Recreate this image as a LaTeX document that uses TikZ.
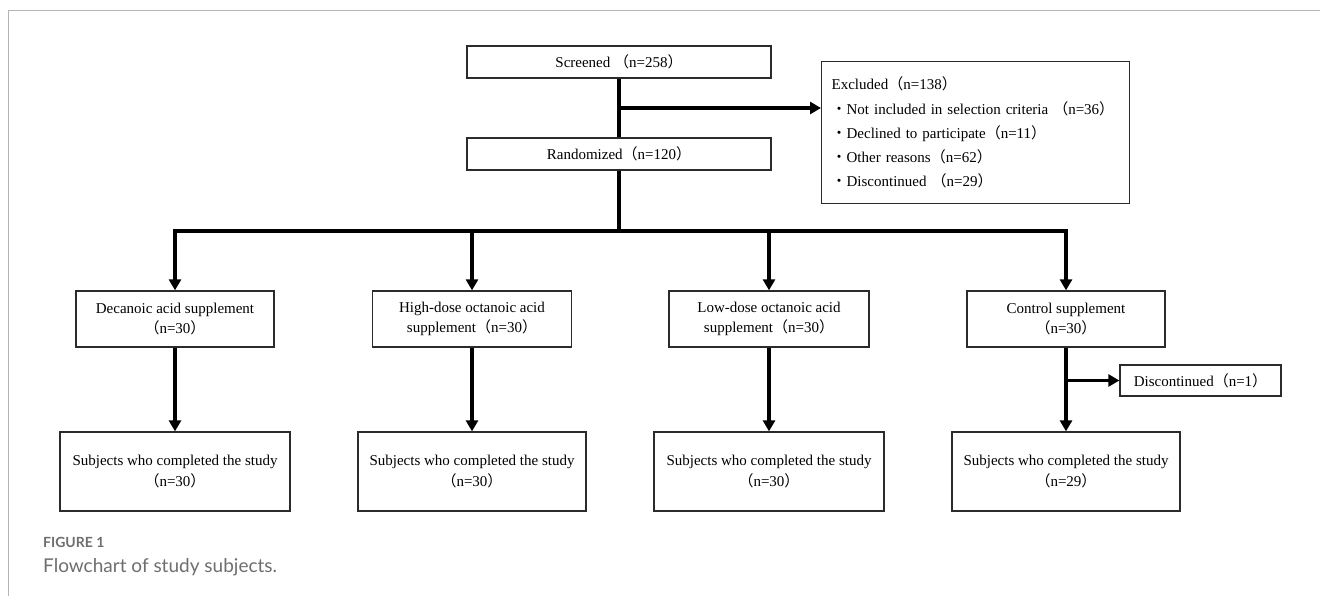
\documentclass[tikz,border=0pt]{standalone}
\usepackage{fontspec}
\setmainfont{Liberation Serif}
\newfontfamily\cjk{Noto Sans CJK SC}
\newfontfamily\capfont{Lato}
\usetikzlibrary{arrows.meta}
\newcommand{\lpar}{{\cjk （}}
\newcommand{\rpar}{{\cjk ）}}
\newcommand{\bul}{{\cjk ・}}
\definecolor{boxc}{HTML}{2B2B2B}
\definecolor{capgray}{HTML}{6E6E6E}
\definecolor{framec}{HTML}{B4B4B4}
\begin{document}
\begin{tikzpicture}[x=1pt,y=-1pt,
  box/.style={draw=boxc, line width=1.3pt, align=center, inner sep=0pt, font=\fontsize{15}{20.5}\selectfont},
  bigbox/.style={box, minimum width=304pt, minimum height=32pt},
  grpbox/.style={box, minimum height=56pt},
  endbox/.style={box, minimum height=79pt},
  conn/.style={line width=3.5pt},
  arr/.style={conn, -{Triangle[length=11pt,width=12pt]}},
  captxt/.style={anchor=base west, inner sep=0pt, text=capgray}
]
\useasboundingbox (0,0) rectangle (1320,596);
\draw[line width=1.5pt, framec] (8.5,596) -- (8.5,10.5) -- (1320,10.5);

% top boxes
\node[bigbox] (scr) at (619,62) {Screened \lpar n=258\rpar};
\node[bigbox] (ran) at (619,154) {Randomized\lpar n=120\rpar};
\node[box, anchor=north west, text width=288pt, align=left, inner xsep=10pt,
      minimum height=142pt, font=\fontsize{15}{24.3}\selectfont] (exc) at (821,61)
  {Excluded\lpar n=138\rpar\\
   \bul Not included in selection criteria \lpar n=36\rpar\\
   \bul Declined to participate\lpar n=11\rpar\\
   \bul Other reasons\lpar n=62\rpar\\
   \bul Discontinued \lpar n=29\rpar};

% group boxes
\node[grpbox, minimum width=198pt] (g1) at (175,319) {Decanoic acid supplement\\\lpar n=30\rpar};
\node[grpbox, minimum width=199pt] (g2) at (472,319) {High-dose octanoic acid\\supplement\lpar n=30\rpar};
\node[grpbox, minimum width=200pt] (g3) at (769,319) {Low-dose octanoic acid\\supplement\lpar n=30\rpar};
\node[grpbox, minimum width=198pt] (g4) at (1066,319) {Control supplement\\\lpar n=30\rpar};

% end boxes
\node[endbox, minimum width=230pt] (e1) at (175,471.5) {Subjects who completed the study\\\lpar n=30\rpar};
\node[endbox, minimum width=228pt] (e2) at (472,471.5) {Subjects who completed the study\\\lpar n=30\rpar};
\node[endbox, minimum width=230pt] (e3) at (769,471.5) {Subjects who completed the study\\\lpar n=30\rpar};
\node[endbox, minimum width=228pt] (e4) at (1066,471.5) {Subjects who completed the study\\\lpar n=29\rpar};

\node[box, minimum width=161pt, minimum height=31pt] (dis) at (1200.5,380.5) {Discontinued\lpar n=1\rpar};

% junctions
\coordinate (j1) at (619,108);
\coordinate (bar) at (619,231);
\coordinate (bl) at (175,231);
\coordinate (br) at (1066,231);
\coordinate (j2) at (1066,380.5);

% connectors
\draw[conn] (scr.south) -- (ran.north);
\draw[arr] (j1) -- (j1 -| exc.west);
\draw[conn] (ran.south) -- (bar);
\draw[conn, line cap=rect] (bl) -- (br);
\draw[arr] (bl) -- (g1.north);
\draw[arr] (g2.north |- bar) -- (g2.north);
\draw[arr] (g3.north |- bar) -- (g3.north);
\draw[arr] (br) -- (g4.north);
\draw[arr] (g1.south) -- (e1.north);
\draw[arr] (g2.south) -- (e2.north);
\draw[arr] (g3.south) -- (e3.north);
\draw[arr] (g4.south) -- (e4.north);
\draw[arr] (j2) -- (dis.west);

% caption
\node[captxt, font=\capfont\bfseries\fontsize{14}{16}\selectfont] (fig) at (43,547) {FIGURE 1};
\node[captxt, font=\capfont\fontsize{19}{22}\selectfont] (cap) at (43,572) {Flowchart of study subjects.};
\end{tikzpicture}
\end{document}
